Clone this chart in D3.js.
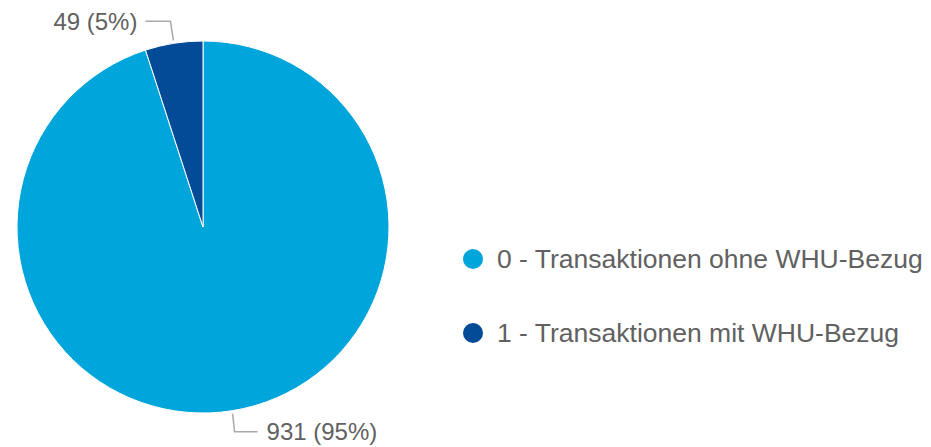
<!DOCTYPE html>
<html><head><meta charset="utf-8">
<script src="https://cdn.jsdelivr.net/npm/d3@7"></script>
<style>body{margin:0;background:#fff}svg{display:block}text{font-family:"Liberation Sans",Arial,sans-serif}</style>
</head><body>
<script>
const categories = ["0 - Transaktionen ohne WHU-Bezug", "1 - Transaktionen mit WHU-Bezug"];
const values = [931, 49];
const colors = ["#00a5db", "#034a97"];

const W = 931, H = 447;
const svg = d3.select("body").append("svg").attr("width", W).attr("height", H);
const cx = 203, cy = 227, R = 186;
const total = d3.sum(values);
const pie = d3.pie().sort(null).value(d => d)(values);
const arc = d3.arc().innerRadius(0).outerRadius(R);
const g = svg.append("g").attr("transform", `translate(${cx},${cy})`);
g.selectAll("path").data(pie).join("path")
  .attr("d", arc).attr("fill", (d, i) => colors[i])
  .attr("stroke", "#fff").attr("stroke-width", 1);

const fmt = v => `${v} (${Math.round(v / total * 100)}%)`;
const textColor = "#616161", lineColor = "#aaaaaa";
// labels
pie.forEach((d, i) => {
  const a = (d.startAngle + d.endAngle) / 2;
  const sx = Math.sin(a), sy = -Math.cos(a);
  const p0 = [sx * (R + 3), sy * (R + 3)];
  const yOff = sy < 0 ? -19 : 18;
  const p1 = [p0[0] + (sx < 0 ? -3 : 2), p0[1] + yOff];
  const p2 = [p1[0] + (sx < 0 ? -25 : 23), p1[1]];
  g.append("path").attr("d", d3.line()([p0, p1, p2]))
    .attr("fill", "none").attr("stroke", lineColor).attr("stroke-width", 1.5);
  g.append("text").attr("x", p2[0] + (sx < 0 ? -8 : 9)).attr("y", p2[1])
    .attr("dy", "0.35em").attr("text-anchor", sx < 0 ? "end" : "start")
    .attr("font-size", 24).attr("fill", textColor).text(fmt(values[i]));
});

// legend
const ly = d3.scalePoint().domain(categories).range([259, 333]);
const leg = svg.append("g");
categories.forEach((c, i) => {
  leg.append("circle").attr("cx", 473).attr("cy", ly(c)).attr("r", 10).attr("fill", colors[i]);
  leg.append("text").attr("x", 497).attr("y", ly(c)).attr("dy", "0.35em")
    .attr("font-size", 26.5).attr("fill", textColor).text(c);
});
</script>
</body></html>
